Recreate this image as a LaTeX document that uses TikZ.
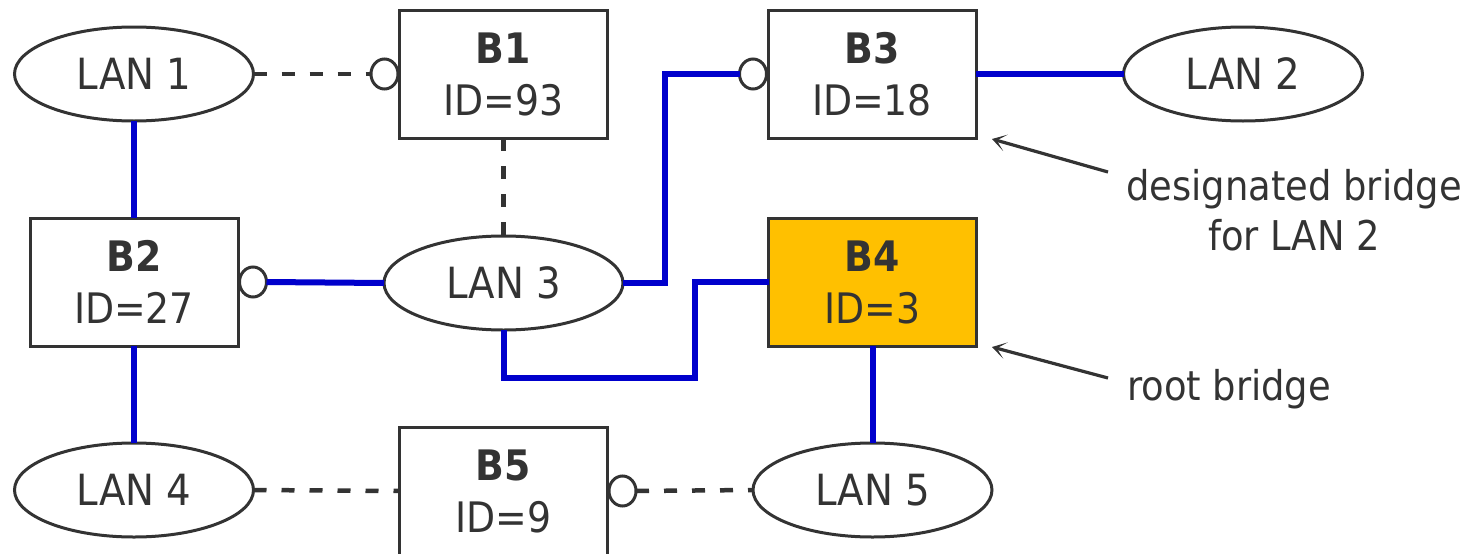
\documentclass[tikz,border=0pt]{standalone}
\usepackage{fontspec}
\setmainfont{DejaVu Sans Condensed}
\usetikzlibrary{shapes.geometric,arrows.meta,calc}
\definecolor{ink}{HTML}{333333}
\definecolor{linkblue}{HTML}{0000CC}
\definecolor{rootfill}{HTML}{FFC000}
\begin{document}
\begin{tikzpicture}[x=1pt,y=-1pt,
  lan/.style={ellipse,draw=ink,line width=3pt,outer sep=0pt,minimum width=239pt,minimum height=94pt,inner sep=0pt,font=\fontsize{43}{50}\selectfont,text=ink},
  bridge/.style={rectangle,draw=ink,line width=3pt,outer sep=0pt,minimum width=208pt,minimum height=128pt,inner sep=0pt,align=center,font=\fontsize{42}{52}\selectfont,text=ink,fill=white},
  port/.style={ellipse,draw=ink,line width=3pt,outer sep=0pt,minimum width=27pt,minimum height=30pt,inner sep=0pt,fill=white},
  active/.style={draw=linkblue,line width=6pt},
  blocked/.style={draw=ink,line width=4.5pt,dash pattern=on 13pt off 15pt},
  note/.style={font=\fontsize{41}{50}\selectfont,text=ink,inner sep=0pt,align=center},
  pointer/.style={draw=ink,line width=3.2pt,-{Stealth[length=14pt,width=17pt,inset=9pt]}}
]
\useasboundingbox (0,0) rectangle (1478,554);
% LANs
\node[lan] (L1) at (134,74) {LAN 1};
\node[lan] (L2) at (1243,74) {LAN 2};
\node[lan] (L3) at (503.5,283) {LAN 3};
\node[lan] (L4) at (134,490) {LAN 4};
\node[lan] (L5) at (872.5,490) {LAN 5};
% bridges
\node[bridge] (B1) at (503.5,74) {\textbf{B1}\\ID=93};
\node[bridge] (B3) at (872,74) {\textbf{B3}\\ID=18};
\node[bridge] (B2) at (134,282) {\textbf{B2}\\ID=27};
\node[bridge,fill=rootfill] (B4) at (872.5,282) {\textbf{B4}\\ID=3};
\node[bridge] (B5) at (503.5,491) {\textbf{B5}\\ID=9};
% ports
\node[port] (p1) at ($(B1.west)+(-15,0)$) {};
\node[port] (p3) at ($(B3.west)+(-15,0)$) {};
\node[port] (p2) at ($(B2.east)+(15,0)$) {};
\node[port] (p5) at ($(B5.east)+(15,0)$) {};
% connectors
\coordinate (turn) at (665,74);
\coordinate (bend) at (695,378);
\draw[blocked] (L1.east) -- (p1.west);
\draw[blocked] (B1.south) -- (L3.north);
\draw[active] (L3.east) -| (turn) -- (p3.west);
\draw[active] (B3.east) -- (L2.west);
\draw[active] (L1.south) -- (B2.north);
\draw[active] (B2.south) -- (L4.north);
\draw[active] (p2.east) -- (L3.west);
\draw[active] (L3.south) |- (bend) |- (B4.west);
\draw[active] (B4.south) -- (L5.north);
\draw[blocked] (L4.east) -- (B5.west);
\draw[blocked] (p5.east) -- (L5.west);
% notes
\node[note] (n1) at (1294,210) {designated bridge\\for LAN 2};
\node[note,anchor=base west] (n2) at (1127,400) {root bridge};
\coordinate (s1) at (1108,172);
\coordinate (t1) at (992,139);
\coordinate (s2) at (1108,378);
\coordinate (t2) at (992,347);
\draw[pointer] (s1) -- (t1);
\draw[pointer] (s2) -- (t2);
\end{tikzpicture}
\end{document}
